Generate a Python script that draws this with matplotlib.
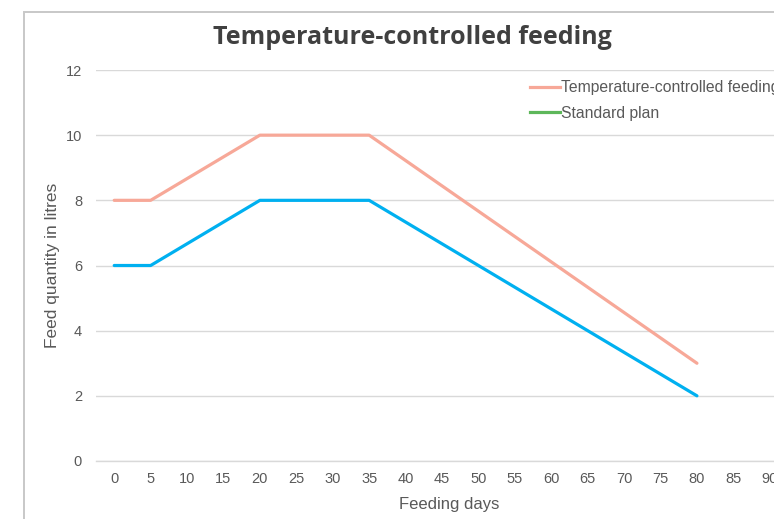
import matplotlib.pyplot as plt
from matplotlib.lines import Line2D
from matplotlib.patches import Rectangle

# data
days = [0, 5, 20, 35, 80]
temp_controlled = [8, 8, 10, 10, 3]
standard_plan = [6, 6, 8, 8, 2]
x_ticks = list(range(0, 95, 5))
y_ticks = [0, 2, 4, 6, 8, 10, 12]

COLOR_TEMP = "#F7A898"
COLOR_STD = "#00B0F0"
COLOR_STD_LEGEND = "#5DB75A"
GRID = "#D9D9D9"
TEXT = "#595959"

plt.rcParams['font.family'] = ['Liberation Sans', 'DejaVu Sans']

W, H = 774, 519
fig = plt.figure(figsize=(W / 100, H / 100), dpi=100, facecolor='white')

# chart-area frame (cropped on the right and bottom)
fig.patches.append(Rectangle((24 / W, -0.1), 1.2, 1.1 - 12 / H,
                             transform=fig.transFigure, fill=False,
                             edgecolor="#C8C8C8", linewidth=1.4))

ax = fig.add_axes([96 / W, 58 / H, (788 - 96) / W, 391 / H])
ax.plot(days, temp_controlled, color=COLOR_TEMP, linewidth=2.3,
        solid_capstyle='round', solid_joinstyle='round', zorder=3)
ax.plot(days, standard_plan, color=COLOR_STD, linewidth=2.3,
        solid_capstyle='round', solid_joinstyle='round', zorder=3)

ax.set_xlim(-2.5, 92.5)
ax.set_ylim(0, 12)
ax.set_xticks(x_ticks)
ax.set_yticks(y_ticks)
ax.tick_params(length=0, labelsize=10.5, labelcolor=TEXT)
ax.tick_params(axis='y', pad=10)
ax.tick_params(axis='x', pad=8)
ax.grid(axis='y', color=GRID, linewidth=1.0)
ax.set_axisbelow(True)
for s in ['top', 'right', 'left']:
    ax.spines[s].set_visible(False)
ax.spines['bottom'].set_color(GRID)
ax.spines['bottom'].set_linewidth(1.0)

ax.set_xlabel("Feeding days", fontsize=12, color=TEXT)
ax.set_ylabel("Feed quantity in litres", fontsize=12.5, color=TEXT)
ax.xaxis.set_label_coords((449 - 96) / 692, -44 / 391)
ax.yaxis.set_label_coords(-(96 - 52) / 692, 0.5)
ax.xaxis.label.set_va('center')
ax.yaxis.label.set_va('center')

fig.text(412 / W, 1 - 37 / H, "Temperature-controlled feeding",
         ha='center', va='center', fontsize=18, fontweight='bold',
         color="#404040", family=['Open Sans', 'DejaVu Sans'])

handles = [
    Line2D([0], [0], color=COLOR_TEMP, linewidth=2.3, label="Temperature-controlled feeding"),
    Line2D([0], [0], color=COLOR_STD_LEGEND, linewidth=2.3, label="Standard plan"),
]
fig.legend(handles=handles, loc='upper left', bbox_to_anchor=(530 / W, 1 - 80 / H),
           frameon=False, fontsize=11.3, labelcolor=TEXT, handlelength=1.9,
           handletextpad=0.1, labelspacing=0.7, borderaxespad=0, borderpad=0)

fig.savefig("out.png", dpi=100, facecolor='white')
